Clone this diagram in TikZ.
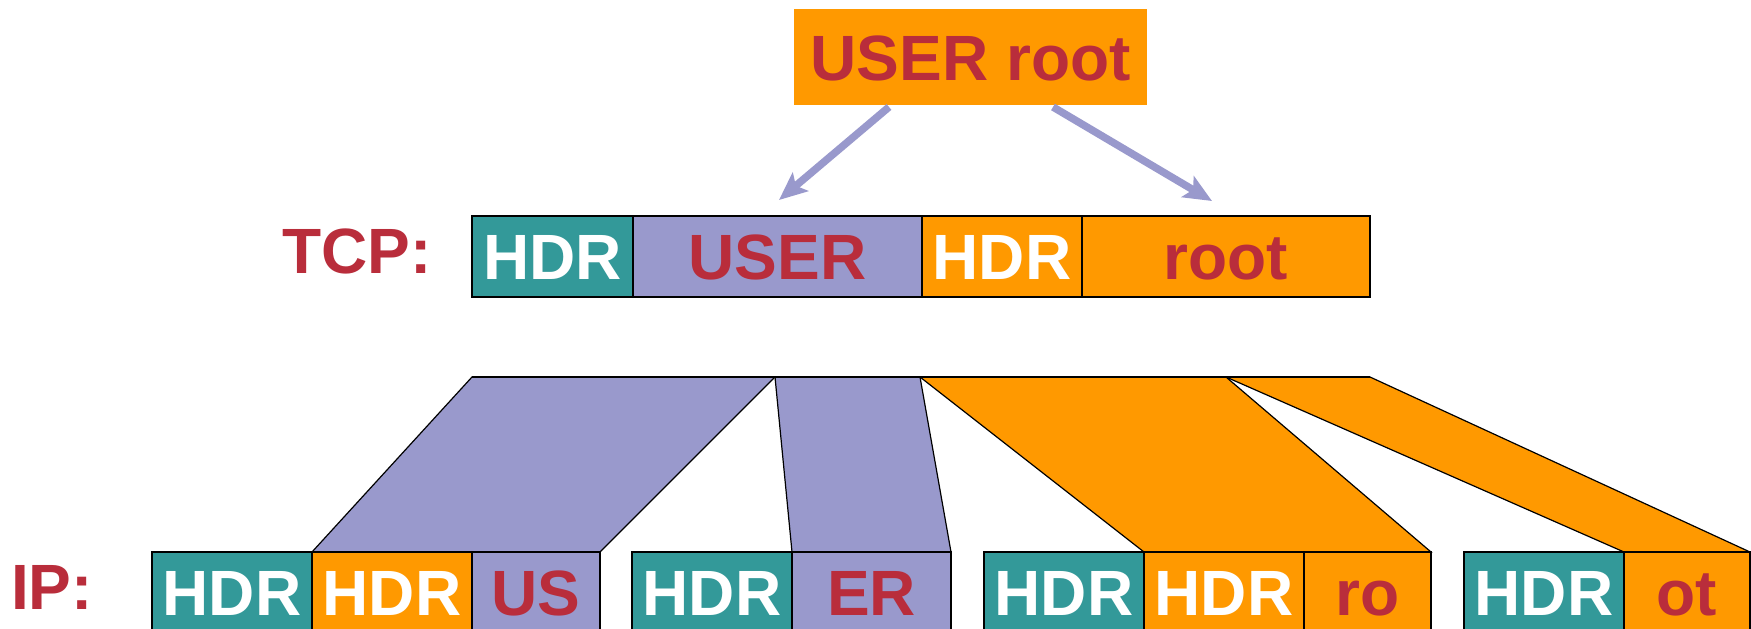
\documentclass[tikz,border=0pt]{standalone}
\usepackage{fontspec}
\setmainfont{Liberation Sans}
\usetikzlibrary{backgrounds,arrows.meta}

\definecolor{hdrteal}{HTML}{339999}
\definecolor{lilac}{HTML}{9999CC}
\definecolor{amber}{HTML}{FF9900}
\definecolor{brick}{HTML}{B92D3B}

\begin{document}
\begin{tikzpicture}[x=1pt,y=-1pt,
  lbl/.style={font=\fontsize{64}{64}\selectfont\bfseries, text height=46pt, text depth=0pt, inner sep=0pt},
  cell/.style={lbl, draw=black, line width=1.2pt, outer sep=0pt, minimum height=81pt, anchor=north west},
  hdrA/.style={cell, fill=hdrteal, text=white},
  hdrB/.style={cell, fill=amber, text=white},
  userdata/.style={cell, fill=lilac, text=brick},
  rootdata/.style={cell, fill=amber, text=brick},
  frame/.style={draw=black, line width=2.4pt},
  flow/.style={draw=lilac, line width=7.5pt, -{Stealth[length=28pt,width=24pt,inset=6pt]}},
  slice/.style={draw=black, line width=1.2pt, line join=miter}]

\useasboundingbox (0,0) rectangle (1751,629);

% application message
\node[lbl, fill=amber, text=brick, minimum width=353pt, minimum height=96pt, anchor=north west] (msg) at (794,9) {USER root};

% TCP segments
\node[lbl, text=brick] (tcplabel) at (357,250) {TCP:};
\node[hdrA, minimum width=161pt] (tcphdr) at (472,216) {HDR};
\node[userdata, minimum width=289pt] (tcpuser) at (tcphdr.north east) {USER};
\node[hdrB, minimum width=160pt] (tcphdrb) at (tcpuser.north east) {HDR};
\node[rootdata, minimum width=288pt] (tcproot) at (tcphdrb.north east) {root};
\draw[frame] (tcphdr.north west) rectangle (tcproot.south east);

% arrows from the message to the segments
\coordinate (a1s) at (889,107);
\coordinate (a1e) at (779,200);
\coordinate (a2s) at (1053,107);
\coordinate (a2e) at (1212,201);
\draw[flow] (a1s) -- (a1e);
\draw[flow] (a2s) -- (a2e);

% IP datagrams
\node[lbl, text=brick] (iplabel) at (52,586) {IP:};

\node[hdrA, minimum width=160pt] (ip1h) at (152,552) {HDR};
\node[hdrB, minimum width=160pt] (ip1t) at (ip1h.north east) {HDR};
\node[userdata, minimum width=128pt] (ip1d) at (ip1t.north east) {US};
\draw[frame] (ip1h.north west) rectangle (ip1d.south east);

\node[hdrA, minimum width=160pt] (ip2h) at (632,552) {HDR};
\node[userdata, minimum width=159pt] (ip2d) at (ip2h.north east) {ER};
\draw[frame] (ip2h.north west) rectangle (ip2d.south east);

\node[hdrA, minimum width=160pt] (ip3h) at (984,552) {HDR};
\node[hdrB, minimum width=160pt] (ip3t) at (ip3h.north east) {HDR};
\node[rootdata, minimum width=127pt] (ip3d) at (ip3t.north east) {ro};
\draw[frame] (ip3h.north west) rectangle (ip3d.south east);

\node[hdrA, minimum width=160pt] (ip4h) at (1464,552) {HDR};
\node[rootdata, minimum width=126pt] (ip4d) at (ip4h.north east) {ot};
\draw[frame] (ip4h.north west) rectangle (ip4d.south east);

% fragmentation slices
\coordinate (s0) at (472,377);
\coordinate (s1) at (775,377);
\coordinate (s2) at (920,377);
\coordinate (s3) at (1226,377);
\coordinate (s4) at (1370,377);

\begin{scope}[on background layer]
  \fill[white] (0,0) rectangle (1751,629);
  \path[slice, fill=lilac] (s0) -- (s1) -- (ip1d.north east) -- (ip1t.north west) -- cycle;
  \path[slice, fill=lilac] (s1) -- (s2) -- (ip2d.north east) -- (ip2d.north west) -- cycle;
  \path[slice, fill=amber] (s2) -- (s3) -- (ip3d.north east) -- (ip3t.north west) -- cycle;
  \path[slice, fill=amber] (s3) -- (s4) -- (ip4d.north east) -- (ip4d.north west) -- cycle;
\end{scope}
\draw[frame] (s0) -- (s4);

\end{tikzpicture}
\end{document}
